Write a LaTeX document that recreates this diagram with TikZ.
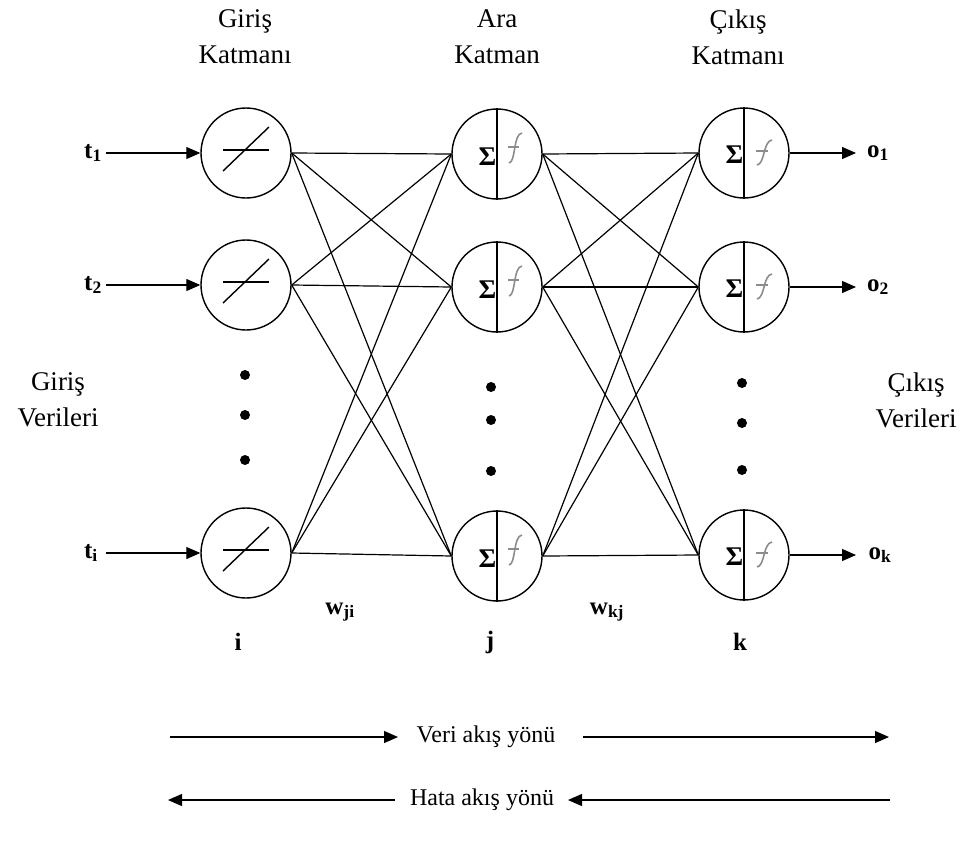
\documentclass[tikz,border=0pt]{standalone}
\usepackage{fontspec}
\setmainfont{Liberation Serif}
\usetikzlibrary{arrows.meta}
\begin{document}
\begin{tikzpicture}[x=1pt,y=-1pt,
 neuron/.style={circle,draw,line width=1.4pt,minimum size=90pt,inner sep=0pt},
 conn/.style={line width=1.2pt},
 arr/.style={line width=1.2pt,-{Triangle[length=14pt,width=12pt]}},
 lbl/.style={font=\fontsize{27}{36}\selectfont,align=center},
 flow/.style={font=\fontsize{24}{28}\selectfont},
 blbl/.style={font=\fontsize{25}{28}\selectfont\bfseries},
 sig/.style={font=\fontsize{27}{28}\selectfont\bfseries,inner sep=0.5pt},
 fcurve/.style={draw=black!45,line width=1.6pt},
 ddot/.style={circle,fill,inner sep=0pt,minimum size=10pt}]
\useasboundingbox (0,0) rectangle (960,846);

% input layer
\foreach \n/\y in {i1/153,i2/285,i3/553}{
  \node[neuron] (\n) at (246,\y) {};
  \draw[line width=1.4pt] (223,{\y-3}) -- (269,{\y-3});
  \draw[line width=1.4pt] (223,{\y+18}) -- (269,{\y-26});
}
% hidden layer
\foreach \n/\y in {h1/154,h2/287,h3/556}{
  \node[neuron] (\n) at (497,\y) {};
  \draw[line width=1.4pt] (\n.north) -- (\n.south);
  \node[sig,anchor=east] at (497,{\y+3}) {Σ};
  \draw[fcurve] (509,{\y+9}) .. controls (516,{\y+8}) and (513,{\y-20}) .. (522,{\y-21});
  \draw[fcurve] (508,{\y-7}) -- (519,{\y-7});
}
% output layer
\foreach \n/\y in {k1/153,k2/287,k3/555}{
  \node[neuron] (\n) at (744,\y) {};
  \draw[line width=1.4pt] (\n.north) -- (\n.south);
  \node[sig,anchor=east] at (744,{\y+2}) {Σ};
  \draw[fcurve] (757,{\y+12}) .. controls (765,{\y+11}) and (763,{\y-12}) .. (772,{\y-13});
  \draw[fcurve] (756,{\y-2}) -- (768,{\y-2});
}

% connections
\foreach \a in {i1,i2,i3}{\foreach \b in {h1,h2,h3}{\draw[conn] (\a.east) -- (\b.west);}}
\foreach \a in {h1,h2,h3}{\foreach \b in {k1,k2,k3}{\draw[conn] (\a.east) -- (\b.west);}}

% inputs
\node[blbl] (t1) at (93,153) {t\textsubscript{1}};
\node[blbl] (t2) at (93,285) {t\textsubscript{2}};
\node[blbl] (t3) at (91,553) {t\textsubscript{i}};
\coordinate (s1) at (106,153);
\coordinate (s2) at (106,285);
\coordinate (s3) at (106,553);
\draw[arr] (s1) -- (i1.west);
\draw[arr] (s2) -- (i2.west);
\draw[arr] (s3) -- (i3.west);

% outputs
\coordinate (e1) at (856,153);
\coordinate (e2) at (856,287);
\coordinate (e3) at (856,555);
\draw[arr] (k1.east) -- (e1);
\draw[arr] (k2.east) -- (e2);
\draw[arr] (k3.east) -- (e3);
\node[blbl] (o1) at (878,153) {o\textsubscript{1}};
\node[blbl] (o2) at (878,287) {o\textsubscript{2}};
\node[blbl] (o3) at (880,555) {o\textsubscript{k}};

% dots
\foreach \y in {375,415,460}{\node[ddot] at (245,\y) {};}
\foreach \y in {387,420,471}{\node[ddot] at (491,\y) {};}
\foreach \y in {383,423,470}{\node[ddot] at (742,\y) {};}

% layer titles
\node[lbl] (L1) at (245,37) {Giriş\\Katmanı};
\node[lbl] (L2) at (497,37) {Ara\\Katman};
\node[lbl] (L3) at (738,37) {Çıkış\\Katmanı};
\node[lbl] (GV) at (58,400) {Giriş\\Verileri};
\node[lbl] (CV) at (916,400) {Çıkış\\Verileri};

% indices
\node[blbl] (wji) at (340,612) {w\textsubscript{ji}};
\node[blbl] (wkj) at (607,612) {w\textsubscript{kj}};
\node[blbl] (li) at (238,642) {i};
\node[blbl] (lj) at (490,642) {j};
\node[blbl] (lk) at (740,642) {k};

% flow directions
\node[flow] (veri) at (486,737) {Veri akış yönü};
\node[flow] (hata) at (482,800) {Hata akış yönü};
\coordinate (v1) at (170,737);
\coordinate (v2) at (398,737);
\coordinate (v3) at (583,737);
\coordinate (v4) at (889,737);
\coordinate (h1a) at (395,800);
\coordinate (h1b) at (168,800);
\coordinate (h2a) at (890,800);
\coordinate (h2b) at (568,800);
\draw[arr] (v1) -- (v2);
\draw[arr] (v3) -- (v4);
\draw[arr] (h1a) -- (h1b);
\draw[arr] (h2a) -- (h2b);
\end{tikzpicture}
\end{document}
